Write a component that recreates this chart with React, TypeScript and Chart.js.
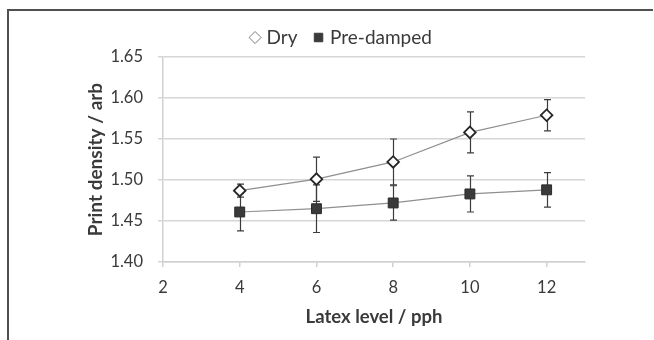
import React, { useEffect, useRef } from "react";
import { Chart, registerables } from "chart.js";

Chart.register(...registerables);

const latexLevels = [4, 6, 8, 10, 12];
const dryValues = [1.487, 1.501, 1.522, 1.558, 1.579];
const dryErrors = [0.008, 0.027, 0.028, 0.025, 0.019];
const preDampedValues = [1.461, 1.465, 1.472, 1.483, 1.488];
const preDampedErrors = [0.023, 0.029, 0.021, 0.022, 0.021];
const xTickValues = [2, 4, 6, 8, 10, 12];
const seriesNames = ["Dry", "Pre-damped"];

const FONT = "Lato, 'Open Sans', sans-serif";
const TEXT = "#3a3a3a";

const framePlugin = {
  id: "frame",
  beforeDraw(chart: any) {
    const { ctx, width, height } = chart;
    ctx.save();
    ctx.fillStyle = "#ffffff";
    ctx.fillRect(0, 0, width, height);
    ctx.strokeStyle = "#505050";
    ctx.lineWidth = 2;
    ctx.beginPath();
    ctx.moveTo(8, height);
    ctx.lineTo(8, 10);
    ctx.lineTo(653, 10);
    ctx.stroke();
    ctx.restore();
  },
};

const errorBarPlugin = {
  id: "errorBars",
  beforeDatasetsDraw(chart: any) {
    const { ctx } = chart;
    const xs = chart.scales.x;
    const ys = chart.scales.y;
    const sets = [
      { v: dryValues, e: dryErrors },
      { v: preDampedValues, e: preDampedErrors },
    ];
    ctx.save();
    ctx.strokeStyle = "#3c3c3c";
    ctx.lineWidth = 1.2;
    sets.forEach((s) => {
      s.v.forEach((val, i) => {
        const px = Math.round(xs.getPixelForValue(latexLevels[i])) + 0.5;
        const top = ys.getPixelForValue(val + s.e[i]);
        const bot = ys.getPixelForValue(val - s.e[i]);
        ctx.beginPath();
        ctx.moveTo(px, top);
        ctx.lineTo(px, bot);
        ctx.moveTo(px - 3.5, top);
        ctx.lineTo(px + 3.5, top);
        ctx.moveTo(px - 3.5, bot);
        ctx.lineTo(px + 3.5, bot);
        ctx.stroke();
      });
    });
    ctx.restore();
  },
};

export default function App() {
  const ref = useRef<HTMLCanvasElement | null>(null);

  useEffect(() => {
    if (!ref.current) return;
    const legendFill = ["#ffffff", "#3a3a3a"];
    const legendStroke = ["#7a7a7a", "#3a3a3a"];
    const chart = new Chart(ref.current, {
      type: "line",
      data: {
        datasets: [
          {
            label: seriesNames[0],
            data: latexLevels.map((x, i) => ({ x, y: dryValues[i] })),
            borderColor: "#8f8f8f",
            borderWidth: 1.2,
            pointStyle: "rectRot",
            pointRadius: 5.8,
            pointBackgroundColor: "#ffffff",
            pointBorderColor: "#262626",
            pointBorderWidth: 1.8,
            fill: false,
          },
          {
            label: seriesNames[1],
            data: latexLevels.map((x, i) => ({ x, y: preDampedValues[i] })),
            borderColor: "#8f8f8f",
            borderWidth: 1.2,
            pointStyle: "rect",
            pointRadius: 7,
            pointBackgroundColor: "#3a3a3a",
            pointBorderColor: "#2a2a2a",
            pointBorderWidth: 1,
            fill: false,
          },
        ],
      },
      options: {
        animation: false,
        responsive: true,
        maintainAspectRatio: false,
        layout: { padding: { left: 100, right: 69, top: 9, bottom: 0 } },
        plugins: {
          tooltip: { enabled: false },
          legend: {
            display: true,
            position: "top",
            labels: {
              usePointStyle: true,
              boxWidth: 4,
              boxHeight: 8.5,
              padding: 19,
              color: TEXT,
              font: { family: FONT, size: 19 },
              generateLabels: (c: any) =>
                c.data.datasets.map((ds: any, i: number) => ({
                  text: ds.label,
                  fillStyle: legendFill[i],
                  strokeStyle: legendStroke[i],
                  lineWidth: 1,
                  pointStyle: ds.pointStyle,
                  hidden: false,
                  datasetIndex: i,
                  fontColor: TEXT,
                })),
            },
          },
        },
        scales: {
          x: {
            type: "linear",
            min: 2,
            max: 13,
            afterBuildTicks: (scale: any) => {
              scale.ticks = xTickValues.map((v) => ({ value: v }));
            },
            afterFit: (scale: any) => {
              scale.height = 78;
            },
            grid: {
              display: true,
              drawOnChartArea: false,
              drawTicks: true,
              tickLength: 5,
              color: "#d0d0d0",
              lineWidth: 1.5,
            },
            border: { display: true, color: "#d0d0d0", width: 1.5 },
            ticks: {
              padding: 11,
              color: TEXT,
              font: { family: FONT, size: 16.5 },
              maxRotation: 0,
            },
            title: {
              display: true,
              text: "Latex level / pph",
              color: TEXT,
              font: { family: FONT, size: 18.5, weight: "bold" },
              padding: { top: 0, bottom: 12 },
            },
          },
          y: {
            min: 1.4,
            max: 1.65,
            afterFit: (scale: any) => {
              scale.width = 63;
            },
            grid: {
              color: "#d6d6d6",
              lineWidth: 1.5,
              tickLength: 5,
            },
            border: { display: true, color: "#d0d0d0", width: 1.5 },
            ticks: {
              stepSize: 0.05,
              padding: 15,
              color: TEXT,
              font: { family: FONT, size: 16.5 },
              callback: (v: any) => Number(v).toFixed(2),
            },
            title: {
              display: true,
              text: "Print density / arb",
              color: TEXT,
              font: { family: FONT, size: 19, weight: "bold" },
              padding: { top: -15.4, bottom: 0 },
            },
          },
        },
      },
      plugins: [framePlugin, errorBarPlugin],
    } as any);
    return () => chart.destroy();
  }, []);

  return (
    <div
      style={{
        position: "absolute",
        left: 0,
        top: 0,
        width: 654,
        height: 340,
        background: "#fff",
      }}
    >
      <canvas ref={ref} />
    </div>
  );
}
